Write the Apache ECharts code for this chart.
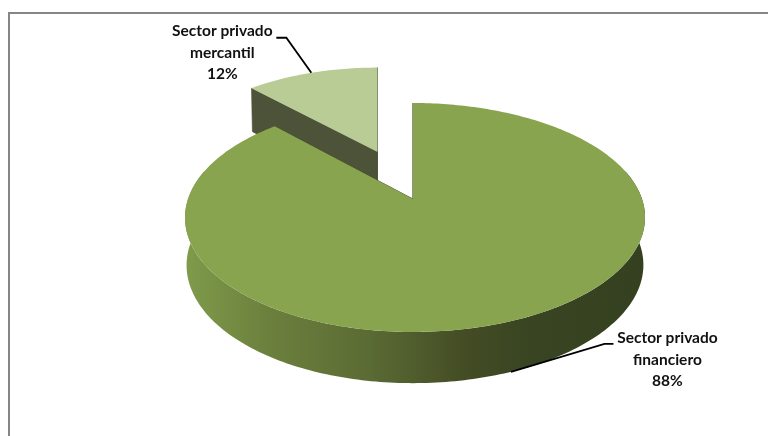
<!DOCTYPE html>
<html>
<head>
<meta charset="utf-8">
<style>html,body{margin:0;padding:0;background:#fff}#chart{width:768px;height:436px}</style>
<script src="https://cdn.jsdelivr.net/npm/echarts@6/dist/echarts.min.js"></script>
</head>
<body>
<div id="chart"></div>
<script>
// Share of each private sector, clockwise from twelve o'clock.
const categories = ['Sector privado\nfinanciero', 'Sector privado\nmercantil'];
const shares = [88, 12];
const explosion = [0, 0.49];

// Perspective of the tilted disc: top plane and bottom plane share a vanishing factor.
const view = {
  x0: 413, y0: 199, rx: 227, lateralBias: 2, ry: 111.5, k: 0.1615,
  bottomScale: 0.993, yBottom: 246, ryBottom: 115, explodeDepth: 1.15, explodeNarrow: 0.06
};

const palette = [
  { top: '#89a44f', cut: '#3f4824' },
  { top: '#b9cc95', cut: '#4d5339' }
];
const wallStops = [
  { offset: 0, color: '#7f9b4b' },
  { offset: 0.18, color: '#6c803d' },
  { offset: 0.4, color: '#5b6b34' },
  { offset: 0.61, color: '#434c24' },
  { offset: 0.75, color: '#394422' },
  { offset: 1, color: '#354020' }
];
// Leader elbows and label centres, relative to where each leader meets its slice.
const callouts = [
  { elbow: [93.5, -28], tail: 9, label: [156.5, -12] },
  { elbow: [-25, -35], tail: -10, label: [-89, -20] }
];

const rad = d => d * Math.PI / 180;
const total = shares.reduce((a, b) => a + b, 0);

// Maps a point of the unit disc, moved out by `offset`, onto the chosen plane.
function project(u, v, offset, plane) {
  const vv = v + offset[1];
  const w = 1 + view.k * vv;
  const shift = view.rx * offset[0] / view.explodeDepth;
  const narrow = 1 - view.explodeNarrow * Math.hypot(offset[0], offset[1]);
  const span = (view.rx + view.lateralBias * u) * u * narrow / w;
  if (plane === 'top') {
    return [view.x0 + span + shift, view.y0 - view.ry * vv / w];
  }
  return [view.x0 + view.bottomScale * span + shift, view.yBottom - view.ryBottom * vv / w];
}

function rimPoint(deg, offset, plane) {
  return project(Math.sin(rad(deg)), Math.cos(rad(deg)), offset, plane);
}

function arc(from, to, offset, plane) {
  const pts = [];
  const n = Math.max(2, Math.ceil(Math.abs(to - from)));
  for (let i = 0; i <= n; i++) {
    pts.push(rimPoint(from + (to - from) * i / n, offset, plane));
  }
  return pts;
}

const poly = (points, style, z2) => ({ type: 'polygon', z2, shape: { points }, style });

function renderSlice(params, api) {
  const i = params.dataIndex;
  const share = api.value(0);
  const before = shares.slice(0, i).reduce((a, b) => a + b, 0);
  const start = before / total * 360;
  const end = start + share / total * 360;
  const mid = (start + end) / 2;
  const e = explosion[i];
  const offset = [e * Math.sin(rad(mid)), e * Math.cos(rad(mid))];
  const colors = palette[i];
  const layer = e > 0 ? 0 : 10;
  const children = [];

  const apexTop = project(0, 0, offset, 'top');
  const apexBottom = project(0, 0, offset, 'bottom');
  const cutFace = deg => [
    apexTop, rimPoint(deg, offset, 'top'), rimPoint(deg, offset, 'bottom'), apexBottom
  ];
  const cutStyle = { fill: colors.cut, stroke: colors.cut, lineWidth: 0.7 };
  children.push(poly(cutFace(end), cutStyle, layer));
  children.push(poly(cutFace(start), cutStyle, layer));

  // Only the front half of the rim faces the viewer.
  const wallFrom = Math.max(start, 75);
  const wallTo = Math.min(end, 285);
  if (wallTo > wallFrom) {
    const wall = arc(wallFrom, wallTo, offset, 'top').concat(arc(wallTo, wallFrom, offset, 'bottom'));
    children.push(poly(wall, {
      fill: { type: 'linear', x: 0, y: 0, x2: 1, y2: 0, colorStops: wallStops }
    }, layer + 1));
  }

  children.push(poly([apexTop].concat(arc(start, end, offset, 'top')), { fill: colors.top }, layer + 2));

  // Leader line and data label.
  const anchor = rimPoint(mid, offset, Math.cos(rad(mid)) < 0 ? 'bottom' : 'top');
  const c = callouts[i];
  const elbow = [anchor[0] + c.elbow[0], anchor[1] + c.elbow[1]];
  children.push({
    type: 'polyline', z2: 30,
    shape: { points: [anchor, elbow, [elbow[0] + c.tail, elbow[1]]] },
    style: { stroke: '#000', lineWidth: 1.8, fill: null }
  });
  children.push({
    type: 'text', z2: 31,
    style: {
      x: anchor[0] + c.label[0], y: anchor[1] + c.label[1],
      text: categories[i] + '\n' + share + '%',
      align: 'center', verticalAlign: 'middle',
      fontFamily: 'Lato', fontWeight: 'bold', fontSize: 15.5, lineHeight: 21.5, fill: '#111'
    }
  });
  return { type: 'group', children };
}

const chart = echarts.init(document.getElementById('chart'), null, { renderer: 'canvas' });
chart.setOption({
  animation: false,
  backgroundColor: '#fff',
  graphic: [
    { type: 'rect', shape: { x: 8, y: 12, width: 760, height: 2 }, style: { fill: '#868686' } },
    { type: 'rect', shape: { x: 8, y: 12, width: 2, height: 424 }, style: { fill: '#868686' } }
  ],
  series: [{
    type: 'custom',
    coordinateSystem: 'none',
    silent: true,
    renderItem: renderSlice,
    data: shares.map((v, i) => ({ name: categories[i], value: [v] }))
  }]
});
</script>
</body>
</html>
